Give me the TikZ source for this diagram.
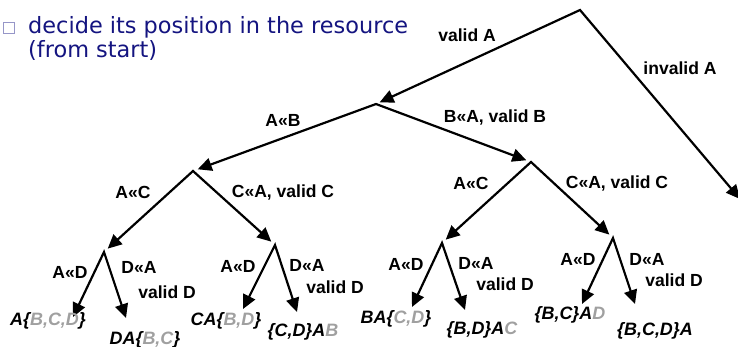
\documentclass[tikz,border=0pt]{standalone}
\usepackage{fontspec}
\setmainfont{Liberation Sans}
\newfontfamily\slidefont{DejaVu Sans}
\usepackage{tikz}
\usetikzlibrary{arrows.meta}
\definecolor{slideblue}{RGB}{20,20,128}
\definecolor{boxblue}{RGB}{150,150,200}
\definecolor{pale}{RGB}{160,160,160}
\tikzstyle{arr}=[draw=black, line width=2.2bp, line join=miter, {Triangle[length=14bp,width=13bp]}-{Triangle[length=14bp,width=13bp]}]
\tikzstyle{lbl}=[font=\fontsize{17.6}{19}\selectfont\bfseries, inner sep=0pt]
\tikzstyle{leaf}=[font=\fontsize{18}{19}\selectfont\bfseries\itshape, inner sep=0pt]
\tikzstyle{txt}=[font=\fontsize{22.5}{24}\slidefont, text=slideblue, inner sep=0pt, anchor=base west]
\newcommand{\gr}[1]{\textcolor{pale}{#1}}

\begin{document}
\begin{tikzpicture}[x=1bp, y=-1bp]
\useasboundingbox (0,0) rectangle (738,346);
% bullet text
\draw[boxblue, line width=1.3bp] (3.5,22.5) rectangle (14.5,33.5);
\node[txt] (t1) at (28,33) {decide its position in the resource};
\node[txt] (t2) at (28,57) {(from start)};
% branch points
\coordinate (r) at (580,10);
\coordinate (n1) at (376,104);
\coordinate (n2) at (193,171);
\coordinate (n3) at (531,162);
\coordinate (n4) at (104,252);
\coordinate (n5) at (275,245);
\coordinate (n6) at (442,243);
\coordinate (n7) at (613,238);
\coordinate (out) at (740,199);
% arrow ends above the leaves
\coordinate (e1) at (73,317);
\coordinate (e2) at (126,318);
\coordinate (e3) at (243,309);
\coordinate (e4) at (297,312);
\coordinate (e5) at (412,307);
\coordinate (e6) at (465,310);
\coordinate (e7) at (582,304);
\coordinate (e8) at (635,304);
% tree
\draw[arr, shorten <=4bp] (n1) -- (r) -- (out);
\draw[arr, shorten <=5bp, shorten >=5bp] (n2) -- (n1) -- (n3);
\draw[arr, shorten <=5bp, shorten >=5bp] (n4) -- (n2) -- (n5);
\draw[arr, shorten <=5bp, shorten >=5bp] (n6) -- (n3) -- (n7);
\draw[arr] (e1) -- (n4) -- (e2);
\draw[arr] (e3) -- (n5) -- (e4);
\draw[arr] (e5) -- (n6) -- (e6);
\draw[arr] (e7) -- (n7) -- (e8);
% branch labels
\node[lbl] (la) at (467,35) {valid A};
\node[lbl] (lb) at (680,68) {invalid A};
\node[lbl] (lc) at (283,120) {A«B};
\node[lbl] (ld) at (495,117) {B«A, valid B};
\node[lbl] (le) at (133,192) {A«C};
\node[lbl] (lf) at (283,192) {C«A, valid C};
\node[lbl] (lg) at (471,183) {A«C};
\node[lbl] (lh) at (617,183) {C«A, valid C};
\node[lbl] (d1) at (70,272) {A«D};
\node[lbl] (d2) at (139,267) {D«A};
\node[lbl] (d3) at (167,292) {valid D};
\node[lbl] (d4) at (238,266) {A«D};
\node[lbl] (d5) at (307,265) {D«A};
\node[lbl] (d6) at (335,287) {valid D};
\node[lbl] (d7) at (406,264) {A«D};
\node[lbl] (d8) at (476,263) {D«A};
\node[lbl] (d9) at (505,284) {valid D};
\node[lbl] (d10) at (578,259) {A«D};
\node[lbl] (d11) at (647,259) {D«A};
\node[lbl] (d12) at (674,280) {valid D};
% leaves
\node[leaf] (s1) at (48,321) {A\{\gr{B,C,D}\}};
\node[leaf] (s2) at (145,340) {DA\{\gr{B,C}\}};
\node[leaf] (s3) at (226,321) {CA\{\gr{B,D}\}};
\node[leaf] (s4) at (303,332) {\{C,D\}A\gr{B}};
\node[leaf] (s5) at (396,319) {BA\{\gr{C,D}\}};
\node[leaf] (s6) at (482,330) {\{B,D\}A\gr{C}};
\node[leaf] (s7) at (570,315) {\{B,C\}A\gr{D}};
\node[leaf] (s8) at (655,331) {\{B,C,D\}A};
\end{tikzpicture}
\end{document}
